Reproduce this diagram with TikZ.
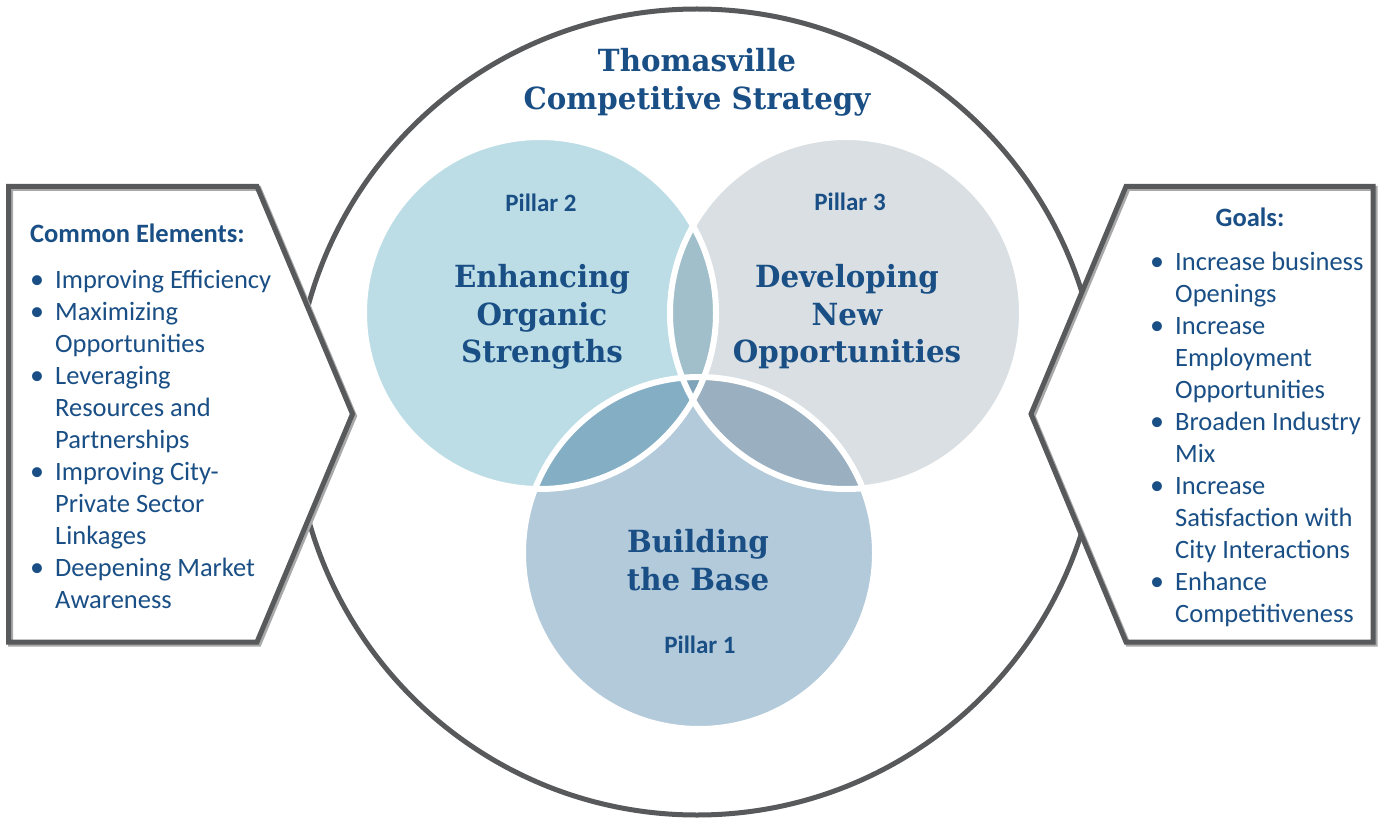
\documentclass[tikz,border=0pt]{standalone}
\usepackage{fontspec}
\setmainfont{Carlito}
\newfontfamily\ttlfont{DejaVu Serif}[FakeStretch=0.96]
\definecolor{txt}{HTML}{1A4F86}
\definecolor{ring}{HTML}{58595B}
\definecolor{shad}{HTML}{A8A8A8}
\definecolor{cA}{HTML}{B3CADA}
\definecolor{cB}{HTML}{BCDDE5}
\definecolor{cC}{HTML}{D9DFE2}
\definecolor{lBC}{HTML}{A0BFCA}
\definecolor{lAB}{HTML}{84AEC4}
\definecolor{lAC}{HTML}{9AAFBF}
\definecolor{lABC}{HTML}{7FA3B8}
\begin{document}
\begin{tikzpicture}[x=1pt,y=-1pt,
  ttl/.style={font=\ttlfont\bfseries\fontsize{30.5}{36}\selectfont, text=txt, inner sep=0pt, anchor=base},
  pil/.style={font=\bfseries\fontsize{25}{28}\selectfont, text=txt, inner sep=0pt, anchor=base},
  hdr/.style={font=\bfseries\fontsize{26.5}{30}\selectfont, text=txt, inner sep=0pt},
  item/.style={font=\fontsize{26.5}{30}\selectfont, text=txt, inner sep=0pt, anchor=base west},
  bul/.style={font=\fontsize{28}{30}\selectfont, text=txt, inner sep=0pt, anchor=base},
  box/.style={draw=ring, line width=5pt, line join=miter},
  boxshadow/.style={draw=shad, line width=5pt, line join=miter},
  venn/.style={draw=white, line width=6pt}]
\useasboundingbox (0,0) rectangle (1380,818);
\fill[white] (0,0) rectangle (1380,818);

% outer ring
\coordinate (O) at (697,412);
\draw[ring, line width=5pt] (O) circle[radius=403pt];

% side boxes
\fill[white] (8.5,186.5) -- (257,186.5) -- (352.5,414) -- (257,642) -- (8.5,642) -- cycle;
\draw[boxshadow, shift={(2,2)}] (8.5,186.5) -- (257,186.5) -- (352.5,414) -- (257,642) -- (8.5,642) -- cycle;
\draw[box] (8.5,186.5) -- (257,186.5) -- (352.5,414) -- (257,642) -- (8.5,642) -- cycle;

\fill[white] (1126,186.5) -- (1373,186.5) -- (1373,642) -- (1126,642) -- (1031,414) -- cycle;
\draw[boxshadow, shift={(2,2)}] (1126,186.5) -- (1373,186.5) -- (1373,642) -- (1126,642) -- (1031,414) -- cycle;
\draw[box] (1126,186.5) -- (1373,186.5) -- (1373,642) -- (1126,642) -- (1031,414) -- cycle;

% Venn circles
\coordinate (cA) at (699,553);
\coordinate (cB) at (540,313);
\coordinate (cC) at (846,313);
\def\R{176pt}
\fill[cB] (cB) circle[radius=\R];
\fill[cC] (cC) circle[radius=\R];
\fill[cA] (cA) circle[radius=\R];
\begin{scope}\clip (cB) circle[radius=\R]; \fill[lBC] (cC) circle[radius=\R];\end{scope}
\begin{scope}\clip (cA) circle[radius=\R]; \fill[lAB] (cB) circle[radius=\R];\end{scope}
\begin{scope}\clip (cA) circle[radius=\R]; \fill[lAC] (cC) circle[radius=\R];\end{scope}
\begin{scope}\clip (cA) circle[radius=\R]; \clip (cB) circle[radius=\R]; \fill[lABC] (cC) circle[radius=\R];\end{scope}
\draw[venn] (cB) circle[radius=\R];
\draw[venn] (cC) circle[radius=\R];
\draw[venn] (cA) circle[radius=\R];

% title
\node[ttl] (t1) at (697,72) {Thomasville};
\node[ttl] (t2) at (697,110) {Competitive Strategy};

% pillar texts
\node[pil] (p2) at (541,212) {Pillar 2};
\node[ttl] (p2a) at (542,287) {Enhancing};
\node[ttl] (p2b) at (542,325) {Organic};
\node[ttl] (p2c) at (542,362) {Strengths};

\node[pil] (p3) at (850,211) {Pillar 3};
\node[ttl] (p3a) at (847,287) {Developing};
\node[ttl] (p3b) at (847,325) {New};
\node[ttl] (p3c) at (847,362) {Opportunities};

\node[ttl] (p1a) at (698,552) {Building};
\node[ttl] (p1b) at (698,590) {the Base};
\node[pil] (p1) at (700,653) {Pillar 1};

% left list
\node[hdr, anchor=base west] (lh) at (30,243) {Common Elements:};
\foreach \n/\y/\t in {1/288/Improving Efficiency, 2/320/Maximizing, 3/352/Opportunities, 4/384/Leveraging, 5/416/Resources and, 6/448/Partnerships, 7/480/Improving City-, 8/512/Private Sector, 9/544/Linkages, 10/576/Deepening Market, 11/608/Awareness}
  \node[item] (L\n) at (55,\y) {\t};
\foreach \n/\y in {1/288, 2/320, 4/384, 7/480, 10/576}
  \node[bul] (LB\n) at (37,\y) {\textbullet};

% right list
\node[hdr, anchor=base] (rh) at (1250,227) {Goals:};
\foreach \n/\y/\t in {1/270/Increase business, 2/302/Openings, 3/334/Increase, 4/366/Employment, 5/398/Opportunities, 6/430/Broaden Industry, 7/462/Mix, 8/494/Increase, 9/526/Satisfaction with, 10/558/City Interactions, 11/590/Enhance, 12/622/Competitiveness}
  \node[item] (R\n) at (1175,\y) {\t};
\foreach \n/\y in {1/270, 3/334, 6/430, 8/494, 11/590}
  \node[bul] (RB\n) at (1157,\y) {\textbullet};
\end{tikzpicture}
\end{document}
